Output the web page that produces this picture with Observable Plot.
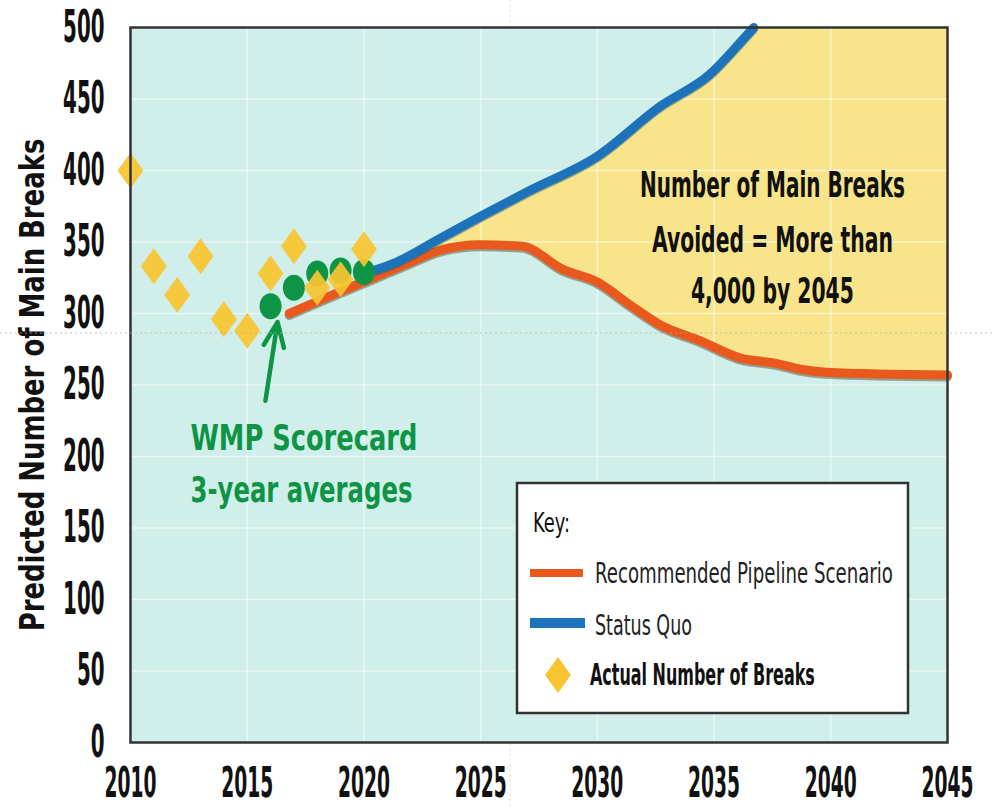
<!DOCTYPE html>
<html>
<head>
<meta charset="utf-8">
<script src="https://cdn.jsdelivr.net/npm/d3@7"></script>
<script src="https://cdn.jsdelivr.net/npm/@observablehq/plot@0.6"></script>
<style>
  html, body { margin: 0; padding: 0; background: #fff; }
  #chart { width: 992px; height: 809px; }
</style>
</head>
<body>
<div id="chart"></div>
<script>
// ---------------- data ----------------
const actualYears = [2010, 2011, 2012, 2013, 2014, 2015, 2016, 2017, 2018, 2019, 2020];
const actualBreaks = [400, 333, 313, 340, 296, 288, 328, 347, 318, 324, 345];

const scorecardYears = [2016, 2017, 2018, 2019, 2020];
const scorecardAverages = [305, 318, 328, 330, 329];

const recommendedYears = [2016.8, 2018.5, 2020.4, 2022.0, 2023.2, 2025.0, 2026.8, 2028.5, 2030.0, 2031.4, 2032.7, 2034.4, 2036.1, 2037.7, 2038.7, 2039.8, 2045.0];
const recommendedValues = [300, 312, 325, 336, 344, 348, 347, 331, 322, 306, 292, 281, 269, 265, 261, 259, 257];

const statusQuoYears = [2020.4, 2021.4, 2023.2, 2025.0, 2027.1, 2030.0, 2032.7, 2034.8, 2036.2, 2036.7];
const statusQuoValues = [330, 336, 352, 368, 386, 410, 445, 467, 491, 500];

const xTicks = [2010, 2015, 2020, 2025, 2030, 2035, 2040, 2045];
const yTicks = [0, 50, 100, 150, 200, 250, 300, 350, 400, 450, 500];
const gridYears = [2015, 2020, 2025, 2030, 2035, 2040];
const gridValues = [50, 100, 150, 200, 250, 300, 350, 400, 450];

const yTitle = "Predicted Number of Main Breaks";
const avoidedLines = ["Number of Main Breaks", "Avoided = More than", "4,000 by 2045"];
const avoidedAnchorYear = 2037.5;
const avoidedAnchorValues = [389, 351, 315];
const wmpLines = ["WMP Scorecard", "3-year averages"];
const wmpAnchorYear = 2012.57;
const wmpAnchorValues = [212.6, 176.2];
const arrowFrom = {year: 2015.78, value: 239};
const arrowTo = {year: 2016.3, value: 294};

const legendTitle = "Key:";
const legendLabels = ["Recommended Pipeline Scenario", "Status Quo", "Actual Number of Breaks"];

// ---------------- style ----------------
const FONT = '"Liberation Sans Narrow","Arial Narrow","DejaVu Sans Condensed","Liberation Sans",sans-serif';
const BG = "#d0efeb";
const YELLOW = "#f8e48a";
const ORANGE = "#e9591d";
const BLUE = "#1c73b9";
const GREEN = "#0d9444";
const GOLD = "#f8c530";
const Y_MAX = 500;

const ellipse = {
  draw(ctx, size) {
    const r = Math.sqrt(size / Math.PI), rx = r * 0.85, ry = r, k = 0.5523;
    ctx.moveTo(rx, 0);
    ctx.bezierCurveTo(rx, ry * k, rx * k, ry, 0, ry);
    ctx.bezierCurveTo(-rx * k, ry, -rx, ry * k, -rx, 0);
    ctx.bezierCurveTo(-rx, -ry * k, -rx * k, -ry, 0, -ry);
    ctx.bezierCurveTo(rx * k, -ry, rx, -ry * k, rx, 0);
    ctx.closePath();
  }
};
const tallDiamond = {
  draw(ctx, size) {
    const r = Math.sqrt(size / Math.PI), w = r * 0.72;
    ctx.moveTo(0, -r); ctx.lineTo(w, 0); ctx.lineTo(0, r); ctx.lineTo(-w, 0); ctx.closePath();
  }
};

// ---------------- tables ----------------
const actual = actualYears.map((year, i) => ({year, value: actualBreaks[i]}));
const scorecard = scorecardYears.map((year, i) => ({year, value: scorecardAverages[i]}));
const recommended = recommendedYears.map((year, i) => ({year, value: recommendedValues[i]}));
const statusQuo = statusQuoYears.map((year, i) => ({year, value: statusQuoValues[i]}));

const CURVE = "monotone-x";

const chart = Plot.plot({
  width: 992,
  height: 809,
  marginLeft: 130,
  marginRight: 45,
  marginTop: 27,
  marginBottom: 67,
  style: {fontFamily: FONT, fontSize: "42px", fontWeight: "bold", color: "#111", background: "#fff", overflow: "visible"},
  x: {domain: [2010, 2045], ticks: xTicks, tickFormat: d3.format("d"), tickSize: 0, tickPadding: 25, label: null},
  y: {domain: [0, 500], ticks: yTicks, tickSize: 0, tickPadding: 26, label: null},
  marks: [
    Plot.frame({fill: BG}),
    Plot.areaY(recommended.filter(d => d.year >= statusQuoYears[0]), {x: "year", y1: "value", y2: () => Y_MAX, fill: YELLOW, curve: CURVE}),
    Plot.areaY(statusQuo, {x: "year", y1: "value", y2: () => Y_MAX, fill: BG, curve: CURVE}),
    Plot.ruleX(gridYears, {stroke: "#fff", strokeOpacity: 0.55, strokeWidth: 1.5}),
    Plot.ruleY(gridValues, {stroke: "#fff", strokeOpacity: 0.55, strokeWidth: 1.5}),
    Plot.line(recommended, {x: "year", y: "value", stroke: "#6b6b55", strokeOpacity: 0.6, strokeWidth: 9, dy: 2, curve: CURVE}),
    Plot.line(recommended, {x: "year", y: "value", stroke: ORANGE, strokeWidth: 9, curve: CURVE}),
    Plot.line(statusQuo, {x: "year", y: "value", stroke: "#2d5a7a", strokeOpacity: 0.5, strokeWidth: 9, dy: 1.5, curve: CURVE}),
    Plot.line(statusQuo, {x: "year", y: "value", stroke: BLUE, strokeWidth: 9, curve: CURVE}),
    Plot.arrow([{}], {x1: () => arrowFrom.year, y1: () => arrowFrom.value, x2: () => arrowTo.year, y2: () => arrowTo.value,
      stroke: GREEN, strokeWidth: 4.5, headLength: 18, headAngle: 45}),
    Plot.dot(scorecard, {x: "year", y: "value", r: 13, symbol: ellipse, fill: GREEN}),
    Plot.dot(actual, {x: "year", y: "value", r: 18, symbol: tallDiamond, fill: GOLD, fillOpacity: 0.93}),
    Plot.frame({stroke: "#333", strokeWidth: 2.5}),
    Plot.text(avoidedLines, {x: () => avoidedAnchorYear, y: (d, i) => avoidedAnchorValues[i], text: d => d,
      fontSize: 35, fontWeight: "bold", fill: "#111", textAnchor: "middle"}),
    Plot.text(wmpLines, {x: () => wmpAnchorYear, y: (d, i) => wmpAnchorValues[i], text: d => d,
      fontSize: 35, fontWeight: "bold", fill: GREEN, textAnchor: "start"}),
    Plot.text([yTitle], {frameAnchor: "left", dx: -97, rotate: -90, text: d => d,
      fontSize: 34, fontWeight: "bold", fill: "#111", textAnchor: "middle"})
  ]
});

document.getElementById("chart").appendChild(chart);
const svg = d3.select(chart);

// scan artifact guide lines
svg.append("line").attr("x1", 0).attr("x2", 992).attr("y1", 333).attr("y2", 333)
  .attr("stroke", "#b8b090").attr("stroke-opacity", 0.45).attr("stroke-width", 1.5).attr("stroke-dasharray", "2,3");
svg.append("line").attr("x1", 510).attr("x2", 510).attr("y1", 0).attr("y2", 27)
  .attr("stroke", "#c8c0a0").attr("stroke-opacity", 0.5).attr("stroke-dasharray", "2,3");
svg.append("line").attr("x1", 510).attr("x2", 510).attr("y1", 744).attr("y2", 809)
  .attr("stroke", "#c8c0a0").attr("stroke-opacity", 0.5).attr("stroke-dasharray", "2,3");

// legend (key box)
const lg = svg.append("g").attr("font-family", FONT).attr("text-anchor", "start");
lg.append("rect").attr("x", 517).attr("y", 483).attr("width", 391).attr("height", 230)
  .attr("fill", "#fff").attr("stroke", "#333").attr("stroke-width", 2.5);
lg.append("text").attr("x", 533).attr("y", 523).attr("dy", "0.35em").attr("font-size", 26).attr("font-weight", "normal").attr("fill", "#111").text(legendTitle);
lg.append("line").attr("x1", 530).attr("x2", 583).attr("y1", 573).attr("y2", 573).attr("stroke", ORANGE).attr("stroke-width", 8);
lg.append("line").attr("x1", 530).attr("x2", 585).attr("y1", 623).attr("y2", 623).attr("stroke", BLUE).attr("stroke-width", 10);
lg.append("path").attr("transform", "translate(558,675)").attr("fill", GOLD)
  .attr("d", d3.symbol().type(tallDiamond).size(Math.PI * 18 * 18)());
lg.append("text").attr("x", 595).attr("y", 573).attr("dy", "0.35em").attr("font-size", 28).attr("font-weight", "normal").attr("fill", "#222").text(legendLabels[0]);
lg.append("text").attr("x", 595).attr("y", 625).attr("dy", "0.35em").attr("font-size", 28).attr("font-weight", "normal").attr("fill", "#222").text(legendLabels[1]);
lg.append("text").attr("x", 590).attr("y", 675).attr("dy", "0.35em").attr("font-size", 30).attr("font-weight", "bold").attr("fill", "#111").text(legendLabels[2]);

// compress texts horizontally (about their anchor) to match the condensed face of the original
const widths = new Map([
  [yTitle, 493],
  [avoidedLines[0], 265], [avoidedLines[1], 241], [avoidedLines[2], 163],
  [wmpLines[0], 227], [wmpLines[1], 222],
  [legendTitle, 37], [legendLabels[0], 298], [legendLabels[1], 97], [legendLabels[2], 225]
]);
svg.selectAll("text").each(function() {
  const t = this.textContent.trim();
  let target = null;
  if (/^\d+$/.test(t)) {
    const isYear = t.length === 4;
    this.style.fontSize = isYear ? "42px" : "45px";
    this.style.fontWeight = "bold";
    this.setAttribute("fill", "#111");
    target = t.length * (isYear ? 13 : 13.8);
  } else if (widths.has(t)) {
    target = widths.get(t);
  }
  if (target == null) return;
  const bb = this.getBBox();
  if (!bb.width) return;
  const s = target / bb.width;
  const anchor = getComputedStyle(this).textAnchor;
  const ax = anchor === "middle" ? bb.x + bb.width / 2 : anchor === "end" ? bb.x + bb.width : bb.x;
  const base = this.getAttribute("transform") || "";
  this.setAttribute("transform", `${base} translate(${ax},0) scale(${s},1) translate(${-ax},0)`.trim());
});
</script>
</body>
</html>
